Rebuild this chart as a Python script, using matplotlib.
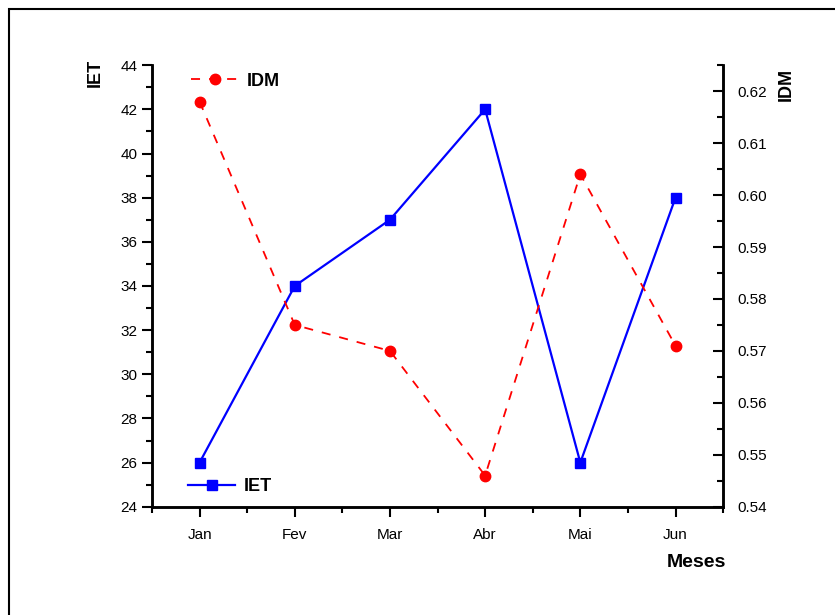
import numpy as np
import matplotlib
matplotlib.use("Agg")
from matplotlib import pyplot as plt
from matplotlib.patches import Rectangle
from matplotlib.ticker import MultipleLocator

plt.rcParams['font.family'] = ['Liberation Sans', 'DejaVu Sans']

meses = ['Jan', 'Fev', 'Mar', 'Abr', 'Mai', 'Jun']
iet = [26, 34, 37, 42, 26, 38]
idm = [0.618, 0.575, 0.570, 0.546, 0.604, 0.571]

fig = plt.figure(figsize=(8.35, 6.15), dpi=100)
# outer frame, right/bottom edges fall outside the image
fig.patches.append(Rectangle((0.011, -0.05), 1.1, 1.036, transform=fig.transFigure,
                             fill=False, edgecolor='black', linewidth=1.5))

ax = fig.add_axes([0.182, 0.176, 0.684, 0.718])
ax2 = ax.twinx()

x = np.arange(1, len(meses) + 1)
l1, = ax.plot(x, iet, color='blue', linestyle='-', linewidth=1.6,
              marker='s', markersize=7.5, label='IET')
l2, = ax2.plot(x, idm, color='red', linestyle='--', linewidth=1.3,
               dashes=(5, 5), marker='o', markersize=7.5, label='IDM')

ax.set_xlim(0.5, 6.5)
ax.set_ylim(24, 44)
ax2.set_ylim(0.54, 0.625)

ax.set_xticks(x)
ax.set_xticklabels(meses)
ax.xaxis.set_minor_locator(MultipleLocator(0.5))
ax.yaxis.set_major_locator(MultipleLocator(2))
ax.yaxis.set_minor_locator(MultipleLocator(1))
ax2.yaxis.set_major_locator(MultipleLocator(0.01))
ax2.yaxis.set_minor_locator(MultipleLocator(0.005))
ax2.yaxis.set_major_formatter(matplotlib.ticker.FormatStrFormatter('%.2f'))

for a in (ax, ax2):
    a.spines['top'].set_visible(False)
    for s in a.spines.values():
        s.set_linewidth(1.8)

ax.tick_params(axis='both', which='major', direction='out', length=7, width=1.5,
               labelsize=11)
ax.tick_params(axis='both', which='minor', direction='out', length=4, width=1.5)
ax.tick_params(axis='x', pad=8)
ax2.tick_params(axis='y', which='major', direction='in', length=7, width=1.5,
                labelsize=11, pad=10)
ax2.tick_params(axis='y', which='minor', direction='in', length=4, width=1.5)

fig.text(0.114, 0.882, 'IET', rotation=90, fontsize=13, fontweight='bold',
         ha='center', va='center')
fig.text(0.942, 0.862, 'IDM', rotation=90, fontsize=13, fontweight='bold',
         ha='center', va='center')
fig.text(0.834, 0.086, 'Meses', fontsize=14, fontweight='bold',
         ha='center', va='center')

leg1 = ax2.legend(handles=[l2], loc='upper left', bbox_to_anchor=(0.04, 1.02),
                  frameon=False, prop={'weight': 'bold', 'size': 13},
                  handlelength=2.6, handletextpad=0.5)
leg2 = ax.legend(handles=[l1], loc='lower left', bbox_to_anchor=(0.035, -0.01),
                 frameon=False, prop={'weight': 'bold', 'size': 13},
                 handlelength=2.6, handletextpad=0.5)

plt.savefig('out.png', dpi=100)
